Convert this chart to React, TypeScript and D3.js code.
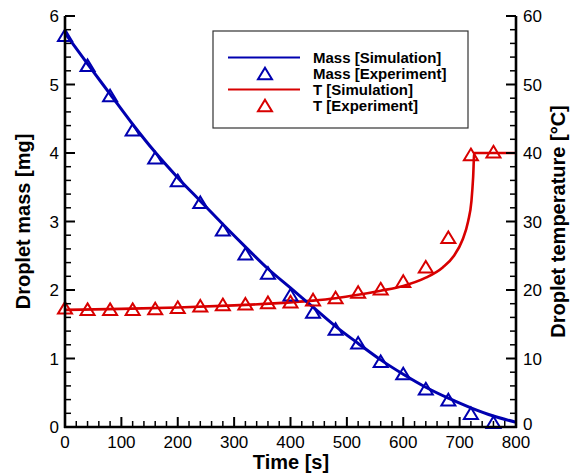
import React from "react";
import * as d3 from "d3";

// Experimental sample times [s]
const expTime = [0, 40, 80, 120, 160, 200, 240, 280, 320, 360, 400, 440, 480, 520, 560, 600, 640, 680, 720, 760];
// Measured droplet mass [mg]
const expMass = [5.72, 5.28, 4.84, 4.34, 3.93, 3.6, 3.28, 2.88, 2.53, 2.25, 1.93, 1.68, 1.43, 1.23, 0.96, 0.78, 0.56, 0.4, 0.2, 0.07];
// Measured droplet temperature [°C]
const expTemp = [17.4, 17.2, 17.2, 17.2, 17.3, 17.5, 17.7, 17.9, 18.0, 18.2, 18.3, 18.6, 18.9, 19.7, 20.2, 21.3, 23.4, 27.7, 39.8, 40.2];

// Simulated mass curve
const simMassTime = [0, 40, 80, 120, 160, 200, 240, 280, 320, 360, 400, 440, 480, 520, 560, 600, 640, 680, 720, 760, 800];
const simMass = [5.75, 5.3, 4.86, 4.42, 4.01, 3.64, 3.3, 2.96, 2.63, 2.31, 2.03, 1.75, 1.47, 1.22, 0.98, 0.77, 0.58, 0.42, 0.28, 0.16, 0.07];

// Simulated temperature curve
const simTempTime = [0, 100, 200, 300, 400, 440, 480, 520, 560, 600, 640, 670, 690, 705, 715, 721, 724, 726, 800];
const simTemp = [17.1, 17.25, 17.45, 17.75, 18.2, 18.45, 18.8, 19.3, 19.9, 20.6, 21.8, 23.3, 25.0, 27.3, 30.0, 33.0, 36.5, 40.0, 40.0];

const xTicks = [0, 100, 200, 300, 400, 500, 600, 700, 800];
const massTicks = [0, 1, 2, 3, 4, 5, 6];
const tempTicks = [0, 10, 20, 30, 40, 50, 60];

const legendLabels = ["Mass [Simulation]", "Mass [Experiment]", "T [Simulation]", "T [Experiment]"];

const BLUE = "#0000b0";
const RED = "#d80000";
const FONT = "'Liberation Sans', Arial, Helvetica, sans-serif";

const W = 571;
const H = 475;
const left = 65;
const right = 516;
const top = 16;
const bottom = 427;

function Triangle({ x, y, color }: { x: number; y: number; color: string }) {
  const hw = 7;
  const hh = 5.8;
  const d = `M${x},${y - hh}L${x + hw},${y + hh}L${x - hw},${y + hh}Z`;
  return <path d={d} fill="none" stroke={color} strokeWidth={2} strokeLinejoin="miter" />;
}

export default function App() {
  const x = d3.scaleLinear().domain([0, 800]).range([left, right]);
  const yM = d3.scaleLinear().domain([0, 6]).range([bottom, top]);
  const yT = d3.scaleLinear().domain([0, 60]).range([bottom, top]);

  const massLine = d3
    .line<number>()
    .x((_, i) => x(simMassTime[i]))
    .y((d) => yM(d))
    .curve(d3.curveMonotoneX);
  const tempLine = d3
    .line<number>()
    .x((_, i) => x(simTempTime[i]))
    .y((d) => yT(d))
    .curve(d3.curveMonotoneX);

  const xMinor = d3.range(0, 801, 20).filter((v) => v % 100 !== 0);
  const mMinor = d3.range(0, 6.01, 0.2).filter((v) => Math.abs(v - Math.round(v)) > 1e-6);
  const tMinor = d3.range(0, 60.1, 2).filter((v) => v % 10 !== 0);

  const lg = { x: 213, y: 31, w: 255, h: 97 };
  const rowY = [57.5, 73.5, 89.5, 105.5];
  const midY = (top + bottom) / 2;

  return (
    <svg width={W} height={H} style={{ position: "absolute", left: 0, top: 0, background: "#fff" }} fontFamily={FONT}>
      <rect x={0} y={0} width={W} height={H} fill="#fff" />

      {/* simulated curves */}
      <path d={tempLine(simTemp) || ""} fill="none" stroke={RED} strokeWidth={2.6} />
      <path d={massLine(simMass) || ""} fill="none" stroke={BLUE} strokeWidth={3} />

      {/* experimental points */}
      {expTime.map((t, i) => (
        <Triangle key={"m" + i} x={x(t)} y={yM(expMass[i])} color={BLUE} />
      ))}
      {expTime.map((t, i) => (
        <Triangle key={"t" + i} x={x(t)} y={yT(expTemp[i])} color={RED} />
      ))}

      {/* axes lines */}
      <line x1={left} y1={top} x2={left} y2={bottom + 1} stroke="#000" strokeWidth={2.6} />
      <line x1={right} y1={top} x2={right} y2={bottom + 1} stroke="#000" strokeWidth={2.6} />
      <line x1={left - 1} y1={bottom} x2={right + 1} y2={bottom} stroke="#000" strokeWidth={2.6} />

      {/* bottom ticks */}
      {xTicks.map((v) => (
        <g key={"xt" + v}>
          <line x1={x(v)} y1={bottom} x2={x(v)} y2={bottom - 10} stroke="#000" strokeWidth={2} />
          <text x={x(v)} y={448} fontSize={17} textAnchor="middle">{v}</text>
        </g>
      ))}
      {xMinor.map((v) => (
        <line key={"xm" + v} x1={x(v)} y1={bottom} x2={x(v)} y2={bottom - 6} stroke="#000" strokeWidth={1.5} />
      ))}

      {/* left ticks */}
      {massTicks.map((v) => (
        <g key={"mt" + v}>
          <line x1={left} y1={yM(v)} x2={left + 10} y2={yM(v)} stroke="#000" strokeWidth={2} />
          <text x={59} y={yM(v)} dy="0.36em" fontSize={17} textAnchor="end">{v}</text>
        </g>
      ))}
      {mMinor.map((v, i) => (
        <line key={"mm" + i} x1={left} y1={yM(v)} x2={left + 6} y2={yM(v)} stroke="#000" strokeWidth={1.5} />
      ))}

      {/* right ticks */}
      {tempTicks.map((v) => (
        <g key={"tt" + v}>
          <line x1={right} y1={yT(v)} x2={right - 10} y2={yT(v)} stroke="#000" strokeWidth={2} />
          <text x={523} y={yT(v)} dy={v === 0 ? "0.2em" : "0.36em"} fontSize={17} textAnchor="start">{v}</text>
        </g>
      ))}
      {tMinor.map((v, i) => (
        <line key={"tm" + i} x1={right} y1={yT(v)} x2={right - 6} y2={yT(v)} stroke="#000" strokeWidth={1.5} />
      ))}

      {/* axis titles */}
      <text x={291} y={469} fontSize={20} fontWeight="bold" textAnchor="middle">Time [s]</text>
      <text transform={`translate(30,${midY}) rotate(-90)`} fontSize={20} fontWeight="bold" textAnchor="middle">
        Droplet mass [mg]
      </text>
      <text transform={`translate(565,${midY}) rotate(-90)`} fontSize={20} fontWeight="bold" textAnchor="middle">
        Droplet temperature [°C]
      </text>

      {/* legend */}
      <rect x={lg.x} y={lg.y} width={lg.w} height={lg.h} fill="#fff" stroke="#333" strokeWidth={1.2} />
      <line x1={228} y1={rowY[0]} x2={300} y2={rowY[0]} stroke={BLUE} strokeWidth={2} />
      <Triangle x={265} y={rowY[1]} color={BLUE} />
      <line x1={228} y1={rowY[2]} x2={300} y2={rowY[2]} stroke={RED} strokeWidth={2} />
      <Triangle x={265} y={rowY[3]} color={RED} />
      {legendLabels.map((s, i) => (
        <text key={s} x={313} y={rowY[i]} dy="0.36em" fontSize={15} fontWeight="bold">{s}</text>
      ))}
    </svg>
  );
}
